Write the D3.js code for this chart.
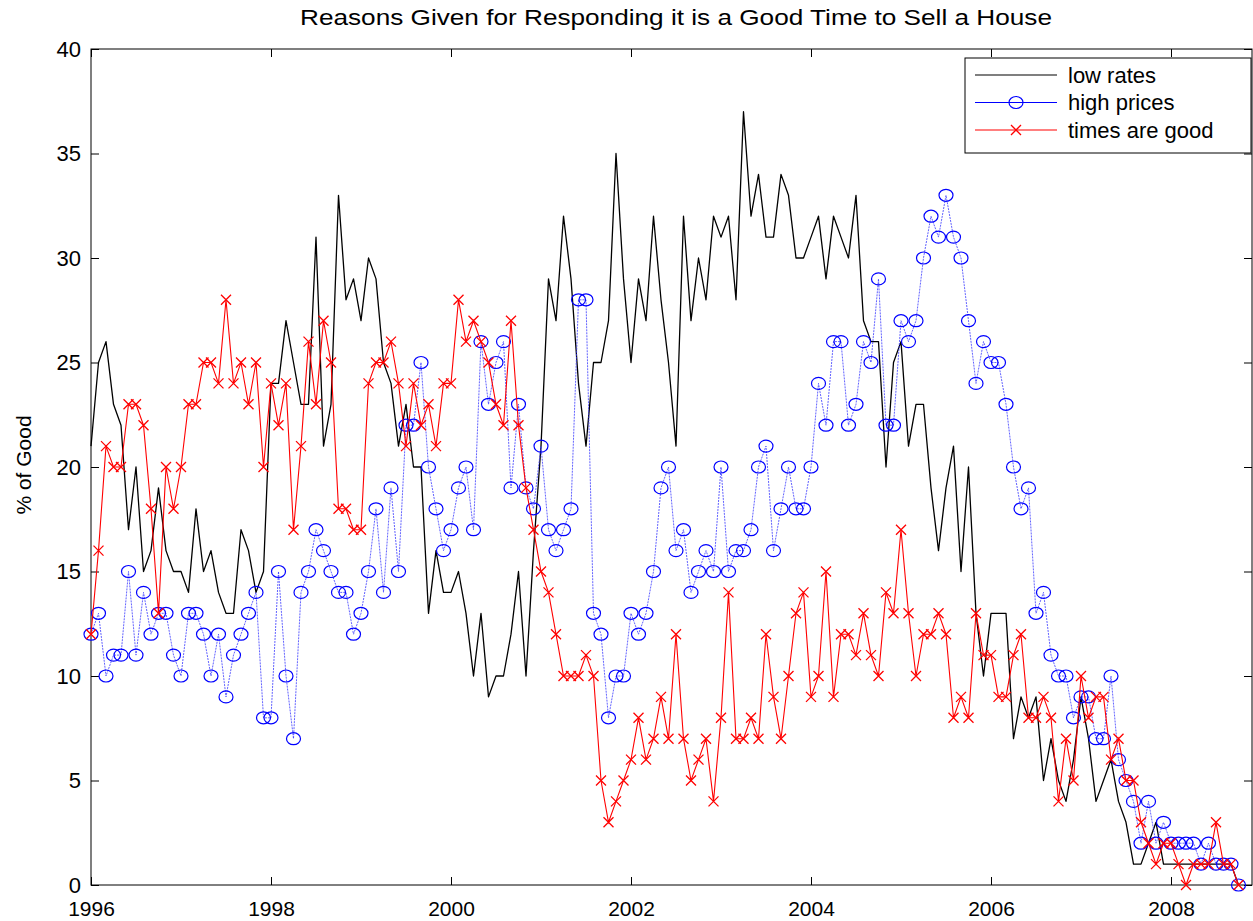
<!DOCTYPE html>
<html>
<head>
<meta charset="utf-8">
<script src="https://d3js.org/d3.v7.min.js"></script>
<style>
  body { margin: 0; background: #fff; }
  svg { display: block; font-family: "Liberation Sans", Arial, sans-serif; }
</style>
</head>
<body>
<svg width="1253" height="921"></svg>
<script>
// one value per month, starting Jan 1996
const startYear = 1996;

const lowRates = [
  21, 25, 26, 23, 22, 17, 20, 15, 16, 19, 16, 15,
  15, 14, 18, 15, 16, 14, 13, 13, 17, 16, 14, 15,
  24, 24, 27, 25, 23, 23, 31, 21, 23, 33, 28, 29,
  27, 30, 29, 25, 24, 21, 23, 20, 20, 13, 16, 14,
  14, 15, 13, 10, 13, 9, 10, 10, 12, 15, 10, 16,
  21, 29, 27, 32, 29, 24, 21, 25, 25, 27, 35, 29,
  25, 29, 27, 32, 28, 25, 21, 32, 27, 30, 28, 32,
  31, 32, 28, 37, 32, 34, 31, 31, 34, 33, 30, 30,
  31, 32, 29, 32, 31, 30, 33, 27, 26, 26, 20, 25,
  26, 21, 23, 23, 19, 16, 19, 21, 15, 20, 13, 10,
  13, 13, 13, 7, 9, 8, 9, 5, 7, 5, 4, 6,
  9, 7, 4, 5, 6, 4, 3, 1, 1, 2, 3, 1,
  1, 1, 1, 1, 1, 1, 1, 1, 1, 0
];

const highPrices = [
  12, 13, 10, 11, 11, 15, 11, 14, 12, 13, 13, 11,
  10, 13, 13, 12, 10, 12, 9, 11, 12, 13, 14, 8,
  8, 15, 10, 7, 14, 15, 17, 16, 15, 14, 14, 12,
  13, 15, 18, 14, 19, 15, 22, 22, 25, 20, 18, 16,
  17, 19, 20, 17, 26, 23, 25, 26, 19, 23, 19, 18,
  21, 17, 16, 17, 18, 28, 28, 13, 12, 8, 10, 10,
  13, 12, 13, 15, 19, 20, 16, 17, 14, 15, 16, 15,
  20, 15, 16, 16, 17, 20, 21, 16, 18, 20, 18, 18,
  20, 24, 22, 26, 26, 22, 23, 26, 25, 29, 22, 22,
  27, 26, 27, 30, 32, 31, 33, 31, 30, 27, 24, 26,
  25, 25, 23, 20, 18, 19, 13, 14, 11, 10, 10, 8,
  9, 9, 7, 7, 10, 6, 5, 4, 2, 4, 2, 3,
  2, 2, 2, 2, 1, 2, 1, 1, 1, 0
];

const timesGood = [
  12, 16, 21, 20, 20, 23, 23, 22, 18, 13, 20, 18,
  20, 23, 23, 25, 25, 24, 28, 24, 25, 23, 25, 20,
  24, 22, 24, 17, 21, 26, 23, 27, 25, 18, 18, 17,
  17, 24, 25, 25, 26, 24, 21, 24, 22, 23, 21, 24,
  24, 28, 26, 27, 26, 25, 23, 22, 27, 22, 19, 17,
  15, 14, 12, 10, 10, 10, 11, 10, 5, 3, 4, 5,
  6, 8, 6, 7, 9, 7, 12, 7, 5, 6, 7, 4,
  8, 14, 7, 7, 8, 7, 12, 9, 7, 10, 13, 14,
  9, 10, 15, 9, 12, 12, 11, 13, 11, 10, 14, 13,
  17, 13, 10, 12, 12, 13, 12, 8, 9, 8, 13, 11,
  11, 9, 9, 11, 12, 8, 8, 9, 8, 4, 7, 5,
  10, 8, 9, 9, 6, 7, 5, 5, 3, 2, 1, 2,
  2, 1, 0, 1, 1, 1, 3, 1, 1, 0
];

const seriesNames = ["low rates", "high prices", "times are good"];
const xTicks = [1996, 1998, 2000, 2002, 2004, 2006, 2008];
const yTicks = [0, 5, 10, 15, 20, 25, 30, 35, 40];

var svg = d3.select("svg");
var margin = {top: 49, right: 1, bottom: 36, left: 91};
var width = +svg.attr("width") - margin.left - margin.right;
var height = +svg.attr("height") - margin.top - margin.bottom;
var g = svg.append("g")
    .attr("transform", "translate(" + margin.left + "," + margin.top + ")");

var x = d3.scaleLinear().domain([1996, 1996 + width / 90]).range([0, width]);
var y = d3.scaleLinear().domain([0, 40]).range([height, 0]);

var xOf = function(d, i) { return x(startYear + i / 12); };

// axes, matlab style: ticks pointing inward on all four sides
var xAxis = g.append("g")
    .attr("transform", "translate(0," + height + ")")
    .call(d3.axisBottom(x).tickValues(xTicks).tickFormat(d3.format("d"))
        .tickSize(-8).tickSizeOuter(0).tickPadding(16));
g.append("g")
    .call(d3.axisTop(x).tickValues(xTicks).tickFormat("")
        .tickSize(-8).tickSizeOuter(0));
var yAxis = g.append("g")
    .call(d3.axisLeft(y).tickValues(yTicks)
        .tickSize(-8).tickSizeOuter(0).tickPadding(10));
g.append("g")
    .attr("transform", "translate(" + width + ",0)")
    .call(d3.axisRight(y).tickValues(yTicks).tickFormat("")
        .tickSize(-8).tickSizeOuter(0));

g.selectAll(".tick text").attr("fill", "#000")
    .attr("font-family", "Liberation Sans, Arial, sans-serif");
xAxis.selectAll(".tick text").attr("font-size", 21);
yAxis.selectAll(".tick text").attr("font-size", 22);
g.selectAll(".tick line").attr("stroke", "#000");
g.selectAll(".domain").remove();

g.append("rect")
    .attr("width", width).attr("height", height)
    .attr("fill", "none").attr("stroke", "#000").attr("stroke-width", 1);

var line = d3.line().x(xOf).y(function(d) { return y(d); });

// low rates
g.append("path")
    .datum(lowRates)
    .attr("d", line)
    .attr("fill", "none")
    .attr("stroke", "#000")
    .attr("stroke-width", 1.3)
    .attr("stroke-linejoin", "round");

// high prices
g.append("path")
    .datum(highPrices)
    .attr("d", line)
    .attr("fill", "none")
    .attr("stroke", "#3a3aff")
    .attr("stroke-width", 0.8)
    .attr("stroke-dasharray", "2,1");
g.selectAll(".hp")
    .data(highPrices)
  .enter().append("ellipse")
    .attr("class", "hp")
    .attr("cx", xOf)
    .attr("cy", function(d) { return y(d); })
    .attr("rx", 7).attr("ry", 6)
    .attr("fill", "none")
    .attr("stroke", "#0000ff")
    .attr("stroke-width", 1.2);

// times are good
g.append("path")
    .datum(timesGood)
    .attr("d", line)
    .attr("fill", "none")
    .attr("stroke", "#ff0000")
    .attr("stroke-width", 1.1);
g.selectAll(".tg")
    .data(timesGood)
  .enter().append("path")
    .attr("class", "tg")
    .attr("transform", function(d, i) { return "translate(" + xOf(d, i) + "," + y(d) + ")"; })
    .attr("d", "M-5,-5L5,5M-5,5L5,-5")
    .attr("stroke", "#ff0000")
    .attr("stroke-width", 1.3);

// title and y label
svg.append("text")
    .attr("x", 676).attr("y", 25)
    .attr("text-anchor", "middle")
    .attr("font-size", 22)
    .attr("textLength", 752)
    .attr("lengthAdjust", "spacingAndGlyphs")
    .text("Reasons Given for Responding it is a Good Time to Sell a House");

svg.append("text")
    .attr("transform", "translate(31,465) rotate(-90)")
    .attr("text-anchor", "middle")
    .attr("font-size", 21)
    .text("% of Good");

// legend
var legend = svg.append("g").attr("transform", "translate(965,58)");
legend.append("rect")
    .attr("width", 286).attr("height", 95)
    .attr("fill", "#fff").attr("stroke", "#000").attr("stroke-width", 1);

var rows = legend.selectAll(".row")
    .data(seriesNames)
  .enter().append("g")
    .attr("transform", function(d, i) { return "translate(0," + (17 + i * 27.5) + ")"; });

rows.append("line")
    .attr("x1", 10).attr("x2", 92)
    .attr("stroke", function(d, i) { return ["#000", "#0000ff", "#ff0000"][i]; })
    .attr("stroke-width", 1.2);
rows.filter(function(d, i) { return i === 1; }).append("ellipse")
    .attr("cx", 51).attr("rx", 7).attr("ry", 6)
    .attr("fill", "none").attr("stroke", "#0000ff").attr("stroke-width", 1.2);
rows.filter(function(d, i) { return i === 2; }).append("path")
    .attr("d", "M46,-5L56,5M46,5L56,-5")
    .attr("stroke", "#ff0000").attr("stroke-width", 1.3);
rows.append("text")
    .attr("x", 103).attr("dy", "0.35em")
    .attr("font-size", 22)
    .text(function(d) { return d; });
</script>
</body>
</html>
